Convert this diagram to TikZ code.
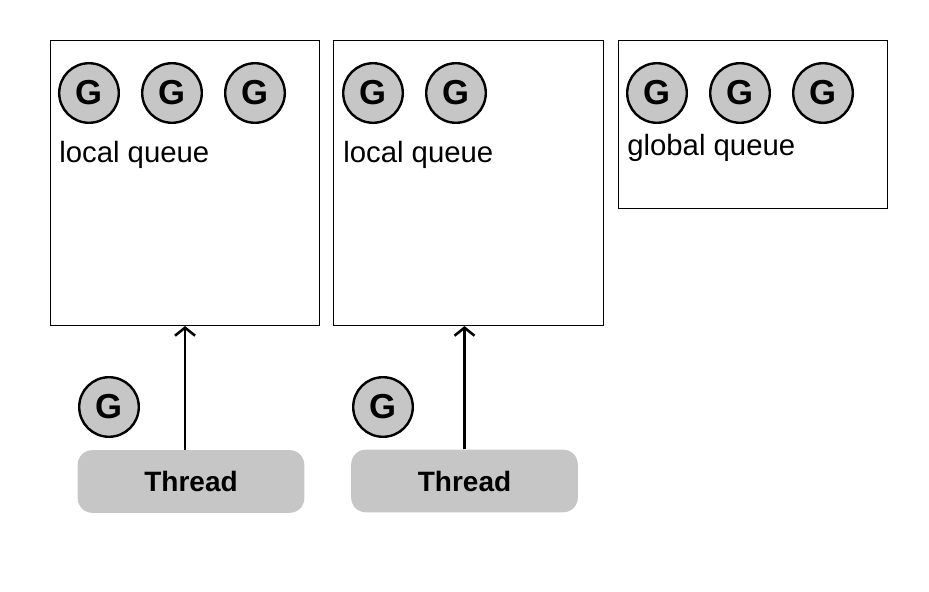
\documentclass[tikz,border=0pt]{standalone}
\usepackage{fontspec}
\setmainfont{Liberation Sans}
\usetikzlibrary{arrows.meta,positioning}
\definecolor{gfill}{RGB}{198,198,198}
\tikzset{
  qbox/.style={draw, line width=0.8pt, anchor=north west, inner sep=0pt},
  gnode/.style={circle, draw, line width=1.8pt, fill=gfill, minimum size=44.7pt,
      inner sep=0pt, font=\fontsize{26}{28}\selectfont\bfseries},
  qlab/.style={anchor=west, inner sep=0pt, font=\fontsize{22}{26}\selectfont},
  thr/.style={fill=gfill, rounded corners=11pt, minimum width=170pt,
      minimum height=47pt, inner sep=0pt, font=\fontsize{21}{24}\selectfont\bfseries},
  arr/.style={-{Straight Barb[length=6pt, width=15pt]}, line width=1.9pt},
}

\begin{document}
\begin{tikzpicture}[x=0.75pt,y=-0.75pt]
\useasboundingbox (0,0) rectangle (929,592);
% queues
\node[qbox, minimum width=201.75pt, minimum height=213.75pt] (q1) at (50,40) {};
\node[qbox, minimum width=202.5pt, minimum height=213.75pt] (q2) at (333,40) {};
\node[qbox, minimum width=201.75pt, minimum height=126pt] (gq) at (618,40) {};
\foreach \i in {1,2,3} \node[gnode] (ga\i) at ({6+83*\i},93) {G};
\foreach \i in {1,2} \node[gnode] (gb\i) at ({290+83*\i},93) {G};
\foreach \i in {1,2,3} \node[gnode] (gc\i) at ({574+83*\i},93) {G};
\node[qlab] (l1) at (59,155) {local queue};
\node[qlab] (l2) at (343,155) {local queue};
\node[qlab] (l3) at (627,148) {global queue};
% threads
\node[thr] (t1) at (191,481.5) {Thread};
\node[thr] (t2) at (464.5,481) {Thread};
\node[gnode] (gt1) at (109,407) {G};
\node[gnode] (gt2) at (383,407) {G};
\draw[arr] (q1.south |- t1.north) -- (q1.south);
\draw[arr] (t2.north) -- (t2.north |- q2.south);
\end{tikzpicture}
\end{document}
